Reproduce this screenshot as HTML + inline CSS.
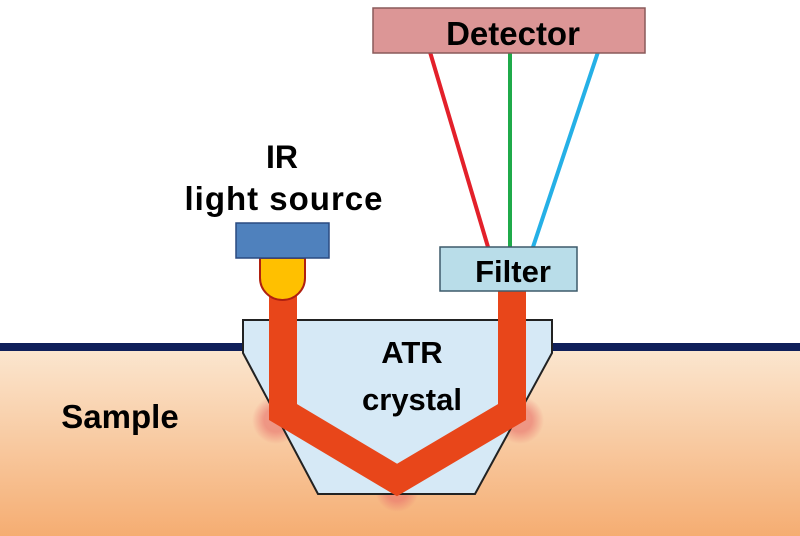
<!DOCTYPE html>
<html><head><style>
html,body{margin:0;padding:0;background:#fff;}
svg{display:block;}
text{font-family:"Liberation Sans",Arial,sans-serif;font-weight:bold;fill:#000;}
</style></head><body>
<svg width="800" height="536" viewBox="0 0 800 536" xmlns="http://www.w3.org/2000/svg">
<defs>
<linearGradient id="sg" x1="0" y1="0" x2="0" y2="1">
<stop offset="0" stop-color="#fbe6cf"/>
<stop offset="1" stop-color="#f5ad72"/>
</linearGradient>
<radialGradient id="glow"><stop offset="0.5" stop-color="#e8706a" stop-opacity="0.6"/><stop offset="1" stop-color="#e8706a" stop-opacity="0"/></radialGradient>
</defs>
<rect x="0" y="350" width="800" height="186" fill="url(#sg)"/>
<rect x="0" y="343" width="800" height="8" fill="#0f1f5a"/>
<circle cx="276" cy="420" r="24" fill="url(#glow)"/>
<circle cx="520" cy="420" r="24" fill="url(#glow)"/>
<circle cx="397" cy="490" r="22" fill="url(#glow)"/>
<polygon points="243,320 552,320 552,353 475,494 318,494 243,353" fill="#d6e9f6" stroke="#222" stroke-width="2"/>
<polyline points="283,290 283,412 397,480 512,412 512,290" fill="none" stroke="#e8461a" stroke-width="28" stroke-linejoin="miter"/>
<line x1="430" y1="52" x2="488" y2="247" stroke="#e3202a" stroke-width="4"/>
<line x1="510" y1="52" x2="510" y2="247" stroke="#1faa4a" stroke-width="4"/>
<line x1="598" y1="52" x2="533" y2="247" stroke="#25b0e6" stroke-width="4"/>
<rect x="373" y="8" width="272" height="45" fill="#dc9696" stroke="#8a5a5a" stroke-width="1.5"/>
<text x="513" y="45" font-size="33" text-anchor="middle">Detector</text>
<rect x="440" y="247" width="137" height="44" fill="#b9dde9" stroke="#3d5a6a" stroke-width="1.5"/>
<text x="513" y="282" font-size="31" text-anchor="middle">Filter</text>
<path d="M260,258 L305,258 L305,278 A22.5,22 0 0 1 260,278 Z" fill="#ffc000" stroke="#b02010" stroke-width="2"/>
<rect x="236" y="223" width="93" height="35" fill="#4f81bd" stroke="#2a4a80" stroke-width="1.5"/>
<text x="282" y="168" font-size="32" text-anchor="middle">IR</text>
<text x="284" y="210" font-size="33" text-anchor="middle" letter-spacing="1">light  source</text>
<text x="412" y="363" font-size="31" text-anchor="middle">ATR</text>
<text x="412" y="410" font-size="31" text-anchor="middle">crystal</text>
<text x="120" y="428" font-size="33" text-anchor="middle">Sample</text>
</svg>
</body></html>
